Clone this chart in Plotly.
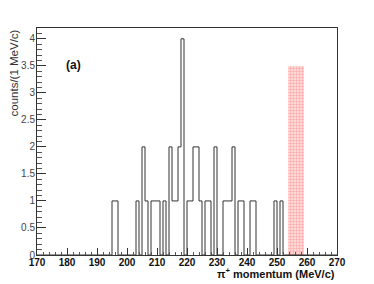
import plotly.graph_objects as go

# ---- data ----
bin_low_edges = [195, 196, 203, 205, 206, 208, 209, 210, 212, 214, 215, 216, 217, 218,
                 220, 221, 222, 223, 224, 226, 227, 229, 232, 233, 234, 235, 237, 238,
                 241, 242, 249, 251]
bin_counts = [1, 1, 1, 2, 1, 1, 1, 1, 1, 2, 1, 1, 2, 4,
              1, 1, 2, 2, 1, 1, 1, 2, 1, 1, 1, 2, 1, 1,
              1, 1, 1, 1]
hist_min, hist_max, bin_width = 170, 270, 1

signal_lo, signal_hi, signal_height = 253.5, 259.0, 3.5

x_tick_vals = [170, 180, 190, 200, 210, 220, 230, 240, 250, 260, 270]
y_tick_vals = [0, 0.5, 1, 1.5, 2, 2.5, 3, 3.5, 4]
y_tick_text = ["0", "0.5", "1", "1.5", "2", "2.5", "3", "3.5", "4"]

# ---- build full histogram ----
nbins = int((hist_max - hist_min) / bin_width)
edges = [hist_min + i * bin_width for i in range(nbins + 1)]
counts = [0] * nbins
for lo, c in zip(bin_low_edges, bin_counts):
    counts[int((lo - hist_min) / bin_width)] = c
step_y = counts + [counts[-1]]

fig = go.Figure()

fig.add_trace(go.Bar(
    x=[(signal_lo + signal_hi) / 2], y=[signal_height], width=[signal_hi - signal_lo],
    marker=dict(color="rgba(255,165,165,0.6)", line=dict(width=0),
                pattern=dict(shape="+", fgcolor="rgba(255,80,80,0.65)",
                             bgcolor="rgba(255,200,200,0.7)", size=3, solidity=0.4)),
    showlegend=False, hoverinfo="skip"))

fig.add_trace(go.Scatter(
    x=edges, y=step_y, mode="lines", line=dict(shape="hv", color="#333333", width=1),
    showlegend=False))

fig.update_layout(
    width=374, height=284,
    margin=dict(l=37, r=37, t=28, b=29),
    paper_bgcolor="white", plot_bgcolor="white",
    font=dict(family="Liberation Sans, Arial, sans-serif", color="#222222"),
    xaxis=dict(range=[hist_min, hist_max], tickvals=x_tick_vals, ticks="inside", ticklen=7,
               tickcolor="#333", tickwidth=1, showgrid=False, zeroline=False,
               showline=True, linecolor="#333", linewidth=1, mirror=True,
               ticklabelstandoff=-2,
               tickfont=dict(size=10, weight="bold", color="#111"),
               minor=dict(dtick=2, ticks="inside", ticklen=3.5, tickcolor="#555", showgrid=False)),
    yaxis=dict(range=[0, 4.2], tickvals=y_tick_vals, ticktext=y_tick_text, ticks="inside",
               ticklen=9, tickcolor="#333", tickwidth=1, showgrid=False, zeroline=False,
               showline=True, linecolor="#333", linewidth=1, mirror=True,
               ticklabelstandoff=-1,
               tickfont=dict(size=10, color="#444"),
               minor=dict(dtick=0.1, ticks="inside", ticklen=4.5, tickcolor="#555", showgrid=False)),
    bargap=0,
    annotations=[
        dict(text="π<sup>+</sup> momentum (MeV/c)", xref="paper", yref="paper", x=1.0, y=0,
             xanchor="right", yanchor="middle", yshift=-18, showarrow=False,
             font=dict(size=11, weight="bold", color="#111")),
        dict(text="counts/(1 MeV/c)", xref="paper", yref="paper", x=0, y=1,
             xanchor="center", yanchor="top", xshift=-24, textangle=-90, showarrow=False,
             font=dict(size=11.5, color="#333")),
        dict(text="(a)", xref="x", yref="y", x=182.3, y=3.52, showarrow=False,
             font=dict(size=12, weight="bold", color="#111")),
    ],
)

fig.write_html("out.html", config={"displayModeBar": False},
               post_script="document.body.style.margin='0';document.body.style.padding='0';")
